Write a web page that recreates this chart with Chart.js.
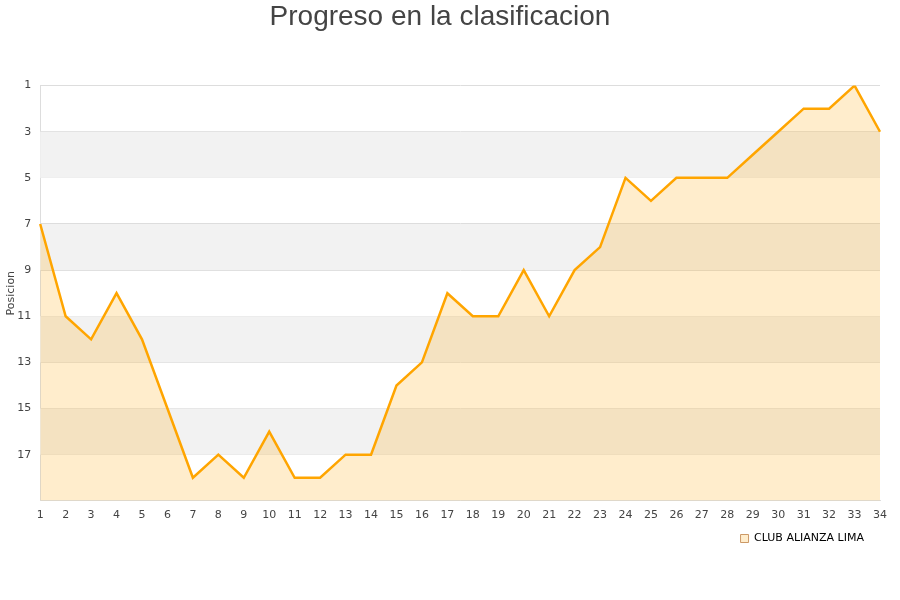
<!DOCTYPE html>
<html>
<head>
<meta charset="utf-8">
<script src="https://cdn.jsdelivr.net/npm/chart.js@4"></script>
<style>
html,body{margin:0;padding:0;background:#fff;}
#wrap{width:900px;height:600px;position:relative;}
</style>
</head>
<body>
<div id="wrap"><canvas id="c" width="900" height="600"></canvas></div>
<script>
const jornadas = ['1','2','3','4','5','6','7','8','9','10','11','12','13','14','15','16','17','18','19','20','21','22','23','24','25','26','27','28','29','30','31','32','33','34'];
const posiciones = [7,11,12,10,12,15,18,17,18,16,18,18,17,17,14,13,10,11,11,9,11,9,8,5,6,5,5,5,4,3,2,2,1,3];
const equipo = 'CLUB ALIANZA LIMA';
const titulo = 'Progreso en la clasificacion';
const ejeY = 'Posicion';

const bandPlugin = {
  id: 'bands',
  beforeDatasetsDraw(chart) {
    const {ctx, chartArea, scales} = chart;
    const y = scales.y;
    ctx.save();
    ctx.fillStyle = '#f2f2f2';
    for (let v = 3; v < 19; v += 4) {
      const y1 = y.getPixelForValue(v);
      const y2 = y.getPixelForValue(v + 2);
      ctx.fillRect(chartArea.left, Math.min(y1, y2), chartArea.right - chartArea.left, Math.abs(y2 - y1));
    }
    ctx.restore();
  }
};

const legendShift = {
  id: 'legendShift',
  afterLayout(chart) {
    if (chart.legend) {
      chart.legend.top -= 13;
      chart.legend.bottom -= 13;
    }
  }
};

new Chart(document.getElementById('c'), {
  type: 'line',
  data: {
    labels: jornadas,
    datasets: [{
      label: equipo,
      data: posiciones,
      borderColor: '#ffa500',
      backgroundColor: 'rgba(255,165,0,0.2)',
      borderWidth: 2.5,
      pointRadius: 0,
      tension: 0,
      fill: 'start'
    }]
  },
  options: {
    responsive: false,
    animation: false,
    layout: { padding: { left: 0, right: 20, top: 0, bottom: 33 } },
    plugins: {
      title: {
        display: true,
        text: titulo,
        color: '#444',
        font: { family: 'Liberation Sans', size: 28, weight: 'normal' },
        padding: { top: 0, bottom: 52 }
      },
      legend: {
        position: 'bottom',
        align: 'end',
        labels: {
          color: '#000',
          padding: 16,
          font: { family: 'DejaVu Sans', size: 11 },
          boxWidth: 8,
          boxHeight: 8,
          generateLabels(chart) {
            return [{
              text: equipo,
              fillStyle: 'rgba(255,165,0,0.2)',
              strokeStyle: '#cc9966',
              lineWidth: 1,
              datasetIndex: 0,
              fontColor: '#000'
            }];
          }
        }
      },
      tooltip: { enabled: false }
    },
    scales: {
      x: {
        offset: false,
        grid: { display: false, drawTicks: false },
        border: { color: '#dddddd' },
        ticks: {
          color: '#444',
          font: { family: 'DejaVu Sans', size: 11 },
          maxRotation: 0,
          autoSkip: false,
          padding: 8
        }
      },
      y: {
        reverse: true,
        min: 1,
        max: 19,
        title: {
          display: true,
          text: ejeY,
          color: '#444',
          font: { family: 'DejaVu Sans', size: 11 },
          padding: { top: 5, bottom: -10 }
        },
        grid: { color: '#dddddd', drawTicks: false },
        border: { color: '#dddddd' },
        ticks: {
          stepSize: 2,
          color: '#444',
          font: { family: 'DejaVu Sans', size: 11 },
          padding: 9,
          callback: (v) => (v >= 19 ? '' : v)
        }
      }
    }
  },
  plugins: [bandPlugin, legendShift]
});
</script>
</body>
</html>
